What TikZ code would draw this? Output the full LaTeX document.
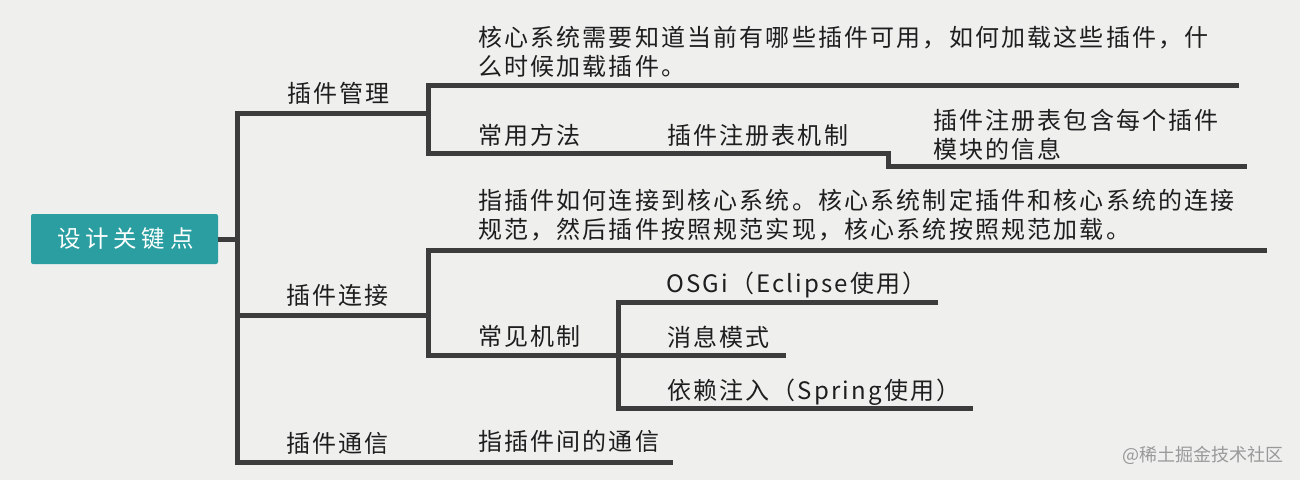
\documentclass[tikz,border=0pt]{standalone}
\usepackage{fontspec}
\setmainfont{Noto Sans CJK SC}[LetterSpace=9]
\newfontfamily\rootfont{Noto Sans CJK SC}[LetterSpace=20]
\newfontfamily\wmfont{Noto Sans CJK SC}
\definecolor{bgcol}{HTML}{EFEFEE}
\definecolor{lncol}{HTML}{3C3C3C}
\definecolor{rootcol}{HTML}{2A9EA0}
\definecolor{txtcol}{HTML}{1E1E1E}
\begin{document}
\begin{tikzpicture}[x=1pt,y=-1pt,
  conn/.style={draw=lncol, line width=5pt, line cap=butt, line join=miter},
  txt/.style={anchor=base west, inner sep=0pt, text=txtcol, align=left, font=\fontsize{24}{29}\selectfont},
  rootbox/.style={fill=rootcol, rounded corners=2pt, minimum width=187pt, minimum height=50pt, inner sep=0pt, text=white, font=\rootfont\fontsize{23.5}{26}\selectfont}
]
\fill[bgcol] (0,0) rectangle (1300,480);
\useasboundingbox (0,0) rectangle (1300,480);

% root
\node[rootbox] (root) at (124.5,239) {\hspace*{2pt}设计关键点};

% junction coordinates
\coordinate (t0) at (237,239);
\coordinate (tTop) at (237,113);
\coordinate (tMid) at (237,315);
\coordinate (tBot) at (237,462);
\coordinate (b1) at (428,113);
\coordinate (b2) at (428,315);
\coordinate (b3e) at (673,462);
\coordinate (s1top) at (428,85);
\coordinate (s1topE) at (1239,85);
\coordinate (s1bot) at (428,153);
\coordinate (s1step) at (888,153);
\coordinate (s1step2) at (888,166);
\coordinate (s1botE) at (1247,166);
\coordinate (s2top) at (428,250);
\coordinate (s2topE) at (1267,250);
\coordinate (s2bot) at (428,355);
\coordinate (m0) at (618,355);
\coordinate (m1) at (618,302);
\coordinate (m1E) at (938,302);
\coordinate (m2E) at (786,355);
\coordinate (m3) at (618,408);
\coordinate (m3E) at (973,408);

% connectors
\draw[conn] (root.east) -- (t0);
\draw[conn] (b1) -- (tTop) -- (tBot) -- (b3e);
\draw[conn] (tMid) -- (b2);
\draw[conn] (s1topE) -- (s1top) -- (s1bot) -- (s1step) -- (s1step2) -- (s1botE);
\draw[conn] (s2topE) -- (s2top) -- (s2bot) -- (m0);
\draw[conn] (m1E) -- (m1) -- (m3) -- (m3E);
\draw[conn] (m0) -- (m2E);

% texts (multi-line nodes: anchor is the last line's baseline)
\node[txt] (n1) at (287,102) {插件管理};
\node[txt] (n1a) at (478,75) {核心系统需要知道当前有哪些插件可用，如何加载这些插件，什\\么时候加载插件。};
\node[txt] (n1b) at (478,144) {常用方法};
\node[txt] (n1c) at (667,144) {插件注册表机制};
\node[txt] (n1d) at (933,158) {插件注册表包含每个插件\\模块的信息};

\node[txt] (n2) at (286,304) {插件连接};
\node[txt] (n2a) at (478,238) {指插件如何连接到核心系统。核心系统制定插件和核心系统的连接\\规范，然后插件按照规范实现，核心系统按照规范加载。};
\node[txt] (n2b) at (478,345) {常见机制};
\node[txt] (n2c) at (666,292) {OSGi（Eclipse使用）};
\node[txt] (n2d) at (667,346) {消息模式};
\node[txt] (n2e) at (667,399) {依赖注入（Spring使用）};

\node[txt] (n3) at (286,452) {插件通信};
\node[txt] (n3a) at (478,450) {指插件间的通信};

\node[inner sep=0pt, text=black!40, font=\wmfont\fontsize{18}{20}\selectfont] (wm) at (1203,455) {@稀土掘金技术社区};
\end{tikzpicture}
\end{document}
